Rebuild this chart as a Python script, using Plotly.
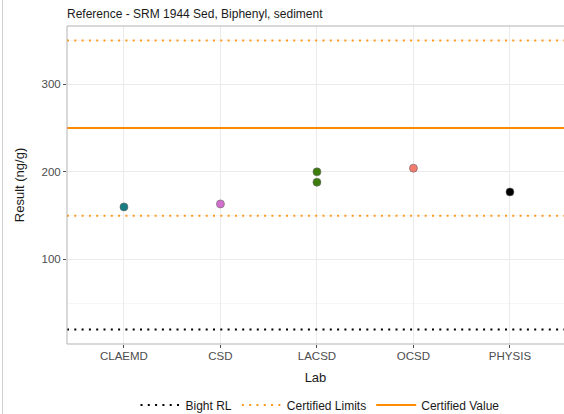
import plotly.graph_objects as go

labs = ["CLAEMD", "CSD", "LACSD", "LACSD", "OCSD", "PHYSIS"]
results = [160, 163.4, 200, 188.2, 204.2, 177.1]
lab_order = ["CLAEMD", "CSD", "LACSD", "OCSD", "PHYSIS"]
lab_colors = {"CLAEMD": "#1a7d84", "CSD": "#d070cc", "LACSD": "#3d7d0c",
              "OCSD": "#f27b6e", "PHYSIS": "#000000"}

bight_rl = 20
cert_limits = [150, 350]
cert_value = 250

W, H = 564, 414
L, R, T, B = 67, 0, 26, 70
pw = W - L - R
ph = H - T - B

font = "Liberation Sans, Arial, sans-serif"
fig = go.Figure()

xi = [lab_order.index(l) for l in labs]
fig.add_trace(go.Scatter(
    x=xi, y=results, mode="markers", showlegend=False,
    marker=dict(size=8, color=[lab_colors[l] for l in labs],
                line=dict(width=0.6, color="#666666")),
))

DOT = "2px,5.3px"
line_specs = [
    (bight_rl, "black", DOT, 2),
    (cert_limits[0], "#ff9a1f", DOT, 2),
    (cert_limits[1], "#ff9a1f", DOT, 2),
    (cert_value, "#ff8c00", "solid", 2),
]
for y, col, dash, w in line_specs:
    fig.add_shape(type="line", xref="paper", x0=0, x1=1, yref="y", y0=y, y1=y,
                  line=dict(color=col, dash=dash, width=w), layer="above")

for name, col, dash, w in [("Bight RL", "black", DOT, 2),
                           ("Certified Limits", "#ff9a1f", DOT, 2),
                           ("Certified Value", "#ff8c00", "solid", 2)]:
    fig.add_trace(go.Scatter(x=[None], y=[None], mode="lines", name=name,
                             line=dict(color=col, dash=dash, width=w)))

border = "#b3b3b3"
fig.add_shape(type="line", xref="paper", yref="paper", x0=0, x1=0, y0=0, y1=1,
              line=dict(color=border, width=1))
fig.add_shape(type="line", xref="paper", yref="paper", x0=0, x1=1, y0=1, y1=1,
              line=dict(color=border, width=1))
fig.add_shape(type="line", xref="paper", yref="paper", x0=0, x1=1, y0=0, y1=0,
              line=dict(color=border, width=1))
fig.add_shape(type="line", xref="paper", yref="paper",
              x0=(2.5 - L) / pw, x1=(2.5 - L) / pw, y0=-B / ph, y1=1 + T / ph,
              line=dict(color="#cfcfcf", width=1))

fig.update_layout(
    width=W, height=H,
    margin=dict(l=L, r=R, t=T, b=B, autoexpand=False),
    paper_bgcolor="white", plot_bgcolor="white",
    font=dict(family=font, size=12, color="#1a1a1a"),
    title=dict(text="Reference - SRM 1944 Sed, Biphenyl, sediment",
               x=L / W, xanchor="left", y=1 - 14 / H, yanchor="middle",
               font=dict(size=12, color="#1a1a1a")),
    xaxis=dict(range=[-0.59, 4.56], tickmode="array",
               tickvals=list(range(len(lab_order))), ticktext=lab_order,
               showgrid=True, gridcolor="#ebebeb", gridwidth=1,
               zeroline=False, showline=False,
               ticks="outside", ticklen=3, tickcolor="#4d4d4d",
               ticklabelstandoff=-2,
               tickfont=dict(size=11.5, color="#4d4d4d"),
               title=dict(text="Lab", font=dict(size=13, color="#1a1a1a"), standoff=12)),
    yaxis=dict(range=[3.5, 366.5], tickvals=[100, 200, 300],
               showgrid=True, gridcolor="#ebebeb", gridwidth=1,
               minor=dict(tickvals=[50, 150, 250, 350], showgrid=True,
                          gridcolor="#f5f5f5", gridwidth=1, ticks=""),
               zeroline=False, showline=False,
               ticks="outside", ticklen=3, tickcolor="#4d4d4d",
               tickfont=dict(size=11.5, color="#4d4d4d"),
               title=dict(text="Result (ng/g)", font=dict(size=13, color="#1a1a1a"), standoff=13)),
    legend=dict(orientation="h", x=(320 - L) / pw, xanchor="center",
                y=(H - B - 405) / ph, yanchor="middle",
                font=dict(size=12, color="#1a1a1a"), itemwidth=40,
                bgcolor="rgba(0,0,0,0)"),
    showlegend=True,
)

fig.write_html("out.html", config={"displayModeBar": False},
               post_script="document.body.style.margin='0';document.body.style.overflow='hidden';")
